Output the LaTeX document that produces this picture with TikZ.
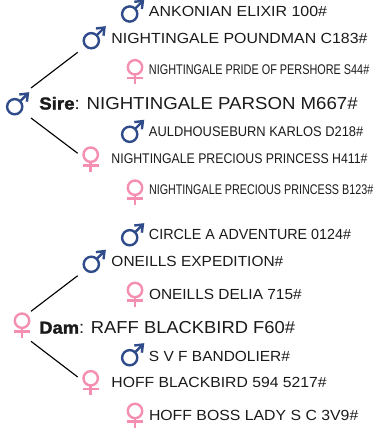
\documentclass[tikz,border=0pt]{standalone}
\usepackage{fontspec}
\usepackage{graphicx}
\setmainfont{Liberation Sans}
\newfontfamily\heavyf{Liberation Sans}[UprightFont={* Bold},FakeBold=1.6]
\definecolor{navy}{HTML}{2F4B8A}
\definecolor{rose}{HTML}{F48FB1}
\definecolor{ink}{HTML}{1A1A1A}
\newcommand{\fitw}[2]{\resizebox{\dimexpr #1pt*3/4\relax}{\height}{#2}}
\tikzset{
  x=0.75pt,y=-0.75pt,
  lab/.style={anchor=west,inner sep=0pt,outer sep=0pt,text=ink},
  labS/.style={lab,font=\fontsize{10.5}{10.5}\selectfont},
  labM/.style={lab,font=\fontsize{11}{11}\selectfont},
  labL/.style={lab,font=\fontsize{13}{13}\selectfont},
  hub/.style={inner sep=0pt,outer sep=0pt,minimum width=24*0.75pt,minimum height=30*0.75pt},
  upbox/.style={inner sep=0pt,outer sep=0pt,minimum width=26.6*0.75pt,minimum height=22*0.75pt},
  downbox/.style={inner sep=0pt,outer sep=0pt,minimum width=26*0.75pt,minimum height=13.4*0.75pt},
  link/.style={draw=black,line width=0.85pt},
  maleicon/.pic={
    \draw[navy,line width=1.8pt] (0,0) circle (7.6);
    \draw[navy,line width=1.8pt] (5.4,-5.4) -- (12.6,-12.6);
    \draw[navy,line width=1.8pt,line cap=butt] (4.6,-12.2) -- (13.2,-13.2) -- (12.2,-5);
  },
  femaleicon/.pic={
    \draw[rose,line width=1.8pt] (0,0) circle (7.2);
    \draw[rose,line width=1.8pt] (0,7.2) -- (0,17);
    \draw[rose,line width=1.8pt] (-8,10.6) -- (8,10.6);
  },
}
\begin{document}
\begin{tikzpicture}
\useasboundingbox (0,0) rectangle (374,430);
% icons
\pic at (129.7,14) {maleicon};
\pic at (91.3,40.7) {maleicon};
\pic at (135,67.3) {femaleicon};
\pic at (14.7,106.7) {maleicon};
\pic at (129.7,134.3) {maleicon};
\pic at (90.7,154.7) {femaleicon};
\pic at (135,187.7) {femaleicon};
\pic at (129.7,237.7) {maleicon};
\pic at (91.3,264.3) {maleicon};
\pic at (135,290) {femaleicon};
\pic at (22,320.7) {femaleicon};
\pic at (129.7,357.7) {maleicon};
\pic at (90.7,378.3) {femaleicon};
\pic at (135,411) {femaleicon};
% connector ends around the icons
\node[hub] (sire) at (19,103) {};
\node[hub] (dam) at (19,326.3) {};
\node[upbox] (sireup) at (91,41.3) {};
\node[downbox] (siredown) at (90.7,160) {};
\node[upbox] (damup) at (91,264.7) {};
\node[downbox] (damdown) at (90.7,383.7) {};
\draw[link] (sire.north east) -- (sireup.south west);
\draw[link] (sire.south east) -- (siredown.north west);
\draw[link] (dam.north east) -- (damup.south west);
\draw[link] (dam.south east) -- (damdown.north west);
% labels
\node[labM] (t1) at (149,11.7) {\fitw{178}{ANKONIAN ELIXIR 100\#}};
\node[labM] (t2) at (111.5,38.3) {\fitw{256}{NIGHTINGALE POUNDMAN C183\#}};
\node[labS] (t3) at (149,69.3) {\fitw{220.3}{NIGHTINGALE PRIDE OF PERSHORE S44\#}};
\node[labL] (t4) at (39.3,103.3) {\fitw{318.4}{{\heavyf Sire}: NIGHTINGALE PARSON M667\#}};
\node[labS] (t5) at (149,131.3) {\fitw{214.3}{AULDHOUSEBURN KARLOS D218\#}};
\node[labS] (t6) at (111.5,158.3) {\fitw{256}{NIGHTINGALE PRECIOUS PRINCESS H411\#}};
\node[labS] (t7) at (149,190) {\fitw{224.3}{NIGHTINGALE PRECIOUS PRINCESS B123\#}};
\node[labM] (t8) at (149,234.3) {\fitw{202}{CIRCLE A ADVENTURE 0124\#}};
\node[labM] (t9) at (111.5,261) {\fitw{171.8}{ONEILLS EXPEDITION\#}};
\node[labM] (t10) at (149,294.3) {\fitw{152.7}{ONEILLS DELIA 715\#}};
\node[labL] (t11) at (39.3,327.7) {\fitw{255.7}{{\heavyf Dam}: RAFF BLACKBIRD F60\#}};
\node[labM] (t12) at (149,356.7) {\fitw{141}{S V F BANDOLIER\#}};
\node[labM] (t13) at (111.5,382) {\fitw{215.2}{HOFF BLACKBIRD 594 5217\#}};
\node[labM] (t14) at (149,415.3) {\fitw{209.3}{HOFF BOSS LADY S C 3V9\#}};
\end{tikzpicture}
\end{document}
